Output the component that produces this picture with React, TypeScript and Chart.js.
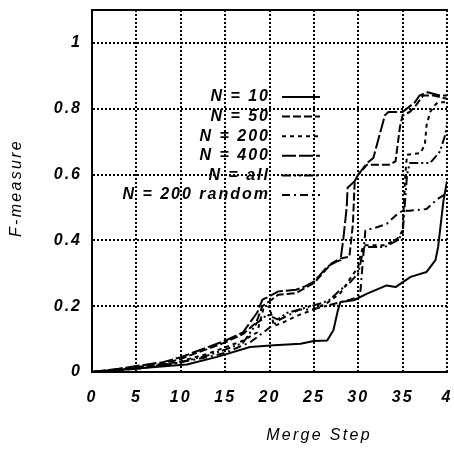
import React, { useEffect, useRef } from "react";
import { Chart, registerables } from "chart.js";

Chart.register(...registerables);

const seriesLabels = ["N = 10", "N = 50", "N = 200", "N = 400", "N = all", "N = 200 random"];

const xTickLabels = ["0", "5", "10", "15", "20", "25", "30", "35", "4"];
const yTickLabels = ["0", "0.2", "0.4", "0.6", "0.8", "1"];

const n10X = [0, 4.7, 9.2, 10.7, 14.1, 17.8, 20.5, 23.5, 25, 26.5, 27.2, 27.7, 28, 29.5, 31, 33.2, 34.2, 35.9, 37.7, 38.7, 39, 39.6, 40];
const n10Y = [0, 0.01, 0.02, 0.023, 0.046, 0.076, 0.081, 0.086, 0.094, 0.096, 0.127, 0.187, 0.213, 0.218, 0.238, 0.263, 0.258, 0.289, 0.304, 0.34, 0.38, 0.52, 0.58];

const n50X = [0, 3, 5, 8, 10, 13, 15, 17, 18.5, 19.2, 20, 21, 23, 24, 25, 26, 27, 28, 29, 29.4, 29.6, 30, 31, 32, 33.5, 34.2, 34.7, 35, 35.8, 36.5, 37.3, 38.5, 40];
const n50Y = [0, 0.008, 0.015, 0.025, 0.04, 0.07, 0.09, 0.115, 0.15, 0.2, 0.215, 0.235, 0.24, 0.255, 0.27, 0.3, 0.33, 0.345, 0.35, 0.45, 0.58, 0.6, 0.63, 0.63, 0.63, 0.64, 0.745, 0.78, 0.79, 0.81, 0.84, 0.84, 0.83];

const n200X = [0, 3, 5, 8, 10, 13, 15, 17, 18.6, 19.3, 20, 20.5, 21.5, 23, 25, 26.5, 28, 29, 30, 30.3, 30.6, 33, 34.4, 35, 35.3, 35.5, 37, 37.5, 37.7, 38.1, 38.6, 39, 40];
const n200Y = [0, 0.007, 0.012, 0.022, 0.033, 0.055, 0.075, 0.095, 0.12, 0.19, 0.2, 0.14, 0.15, 0.17, 0.19, 0.21, 0.24, 0.28, 0.32, 0.36, 0.385, 0.385, 0.405, 0.43, 0.6, 0.66, 0.665, 0.69, 0.75, 0.79, 0.81, 0.82, 0.82];

const n400X = [0, 3, 5, 8, 10, 13, 15, 17, 18.6, 19.2, 20, 21, 23, 24, 25, 25.7, 26.5, 27.5, 28, 28.3, 28.7, 28.8, 29.6, 30, 31, 31.7, 32.4, 33, 33.4, 35, 36.4, 36.9, 37.8, 39.2, 40];
const n400Y = [0, 0.01, 0.018, 0.03, 0.045, 0.075, 0.095, 0.12, 0.18, 0.22, 0.23, 0.245, 0.25, 0.26, 0.275, 0.295, 0.32, 0.335, 0.34, 0.4, 0.5, 0.56, 0.58, 0.6, 0.635, 0.65, 0.72, 0.78, 0.79, 0.79, 0.82, 0.84, 0.85, 0.84, 0.84];

const nAllX = [0, 3, 5, 8, 10, 13, 15, 17, 18.6, 19.2, 19.7, 20.9, 21.2, 22, 23.4, 24.6, 26, 26.8, 28, 29, 30, 30.4, 30.7, 33, 34.4, 35, 35.5, 35.8, 38.1, 39.2, 39.8, 40];
const nAllY = [0, 0.006, 0.01, 0.02, 0.03, 0.05, 0.068, 0.088, 0.15, 0.16, 0.175, 0.16, 0.165, 0.18, 0.19, 0.2, 0.21, 0.22, 0.25, 0.27, 0.3, 0.35, 0.38, 0.38, 0.4, 0.42, 0.6, 0.635, 0.635, 0.67, 0.72, 0.75];

const nRandX = [0, 3, 5, 8, 10, 13, 15, 17.8, 19.3, 21.2, 23.4, 24.8, 26.3, 27.7, 29.1, 30.2, 30.5, 30.8, 32.1, 33.2, 34.4, 35, 35.8, 37.7, 38.9, 39.5, 40];
const nRandY = [0, 0.005, 0.01, 0.02, 0.03, 0.045, 0.058, 0.09, 0.12, 0.16, 0.19, 0.19, 0.2, 0.21, 0.22, 0.23, 0.33, 0.43, 0.44, 0.45, 0.48, 0.49, 0.49, 0.495, 0.525, 0.535, 0.545];

const seriesX = [n10X, n50X, n200X, n400X, nAllX, nRandX];
const seriesY = [n10Y, n50Y, n200Y, n400Y, nAllY, nRandY];
const dashes: number[][] = [[], [8, 3], [4, 4], [14, 3], [9, 3, 2, 3, 2, 3], [8, 4, 2, 4]];

const FONT = '"Liberation Sans", Arial, sans-serif';

const decorPlugin = {
  id: "decor",
  beforeDraw(chart: any) {
    chart.ctx.letterSpacing = "2px";
  },
  afterDraw(chart: any) {
    const ctx = chart.ctx;
    const a = chart.chartArea;
    ctx.save();
    ctx.strokeStyle = "#000";
    ctx.lineWidth = 2;
    ctx.setLineDash([]);
    ctx.beginPath();
    ctx.moveTo(a.left, a.top);
    ctx.lineTo(a.right + 1, a.top);
    ctx.stroke();

    ctx.fillStyle = "#000";
    ctx.font = `italic bold 16px ${FONT}`;
    ctx.letterSpacing = "2px";
    ctx.textAlign = "right";
    ctx.textBaseline = "middle";
    chart.data.datasets.forEach((ds: any, i: number) => {
      const y = 97 + i * 19.6;
      ctx.fillText(ds.label, 270, y);
      ctx.beginPath();
      ctx.setLineDash(ds.borderDash || []);
      ctx.lineWidth = 2;
      ctx.moveTo(282, y);
      ctx.lineTo(320, y);
      ctx.stroke();
    });
    ctx.setLineDash([]);

    ctx.font = `italic 16px ${FONT}`;
    ctx.textAlign = "center";
    ctx.letterSpacing = "2.3px";
    ctx.fillText("Merge Step", 319, 436);
    ctx.translate(17, 188);
    ctx.rotate(-Math.PI / 2);
    ctx.fillText("F-measure", 0, 0);
    ctx.restore();
  },
};

export default function App() {
  const ref = useRef<HTMLCanvasElement>(null);
  useEffect(() => {
    document.body.style.margin = "0";
    const canvas = ref.current!;
    const chart = new Chart(canvas, {
      type: "line",
      data: {
        datasets: seriesLabels.map((label, i) => ({
          label,
          data: seriesX[i].map((x, j) => ({ x, y: seriesY[i][j] })),
          borderColor: "#000",
          borderWidth: 2,
          borderDash: dashes[i],
          pointRadius: 0,
          tension: 0,
          fill: false,
          borderJoinStyle: "round" as const,
        })),
      },
      options: {
        animation: false,
        responsive: false,
        layout: { padding: { top: 10, right: 7, left: 0, bottom: 0 } },
        plugins: { legend: { display: false }, tooltip: { enabled: false } },
        scales: {
          x: {
            type: "linear",
            min: 0,
            max: 40,
            afterFit: (s: any) => {
              s.height = 78;
              s.paddingLeft = 0;
              s.paddingRight = 0;
            },
            ticks: {
              stepSize: 5,
              padding: 16,
              color: "#000",
              maxRotation: 0,
              font: { family: FONT, size: 16, style: "italic", weight: "bold" },
              callback: (_v: any, i: number) => xTickLabels[i],
            },
            grid: { color: "#000", lineWidth: 2, drawTicks: false },
            border: { display: true, color: "#000", width: 2, dash: [2, 2] },
          },
          y: {
            type: "linear",
            min: 0,
            max: 1.1,
            afterFit: (s: any) => {
              s.width = 92;
              s.paddingTop = 0;
              s.paddingBottom = 0;
            },
            ticks: {
              stepSize: 0.2,
              includeBounds: false,
              padding: 10,
              color: "#000",
              font: { family: FONT, size: 16, style: "italic", weight: "bold" },
              callback: (_v: any, i: number) => yTickLabels[i],
            },
            grid: { color: "#000", lineWidth: 2, drawTicks: false },
            border: { display: true, color: "#000", width: 2, dash: [2, 2] },
          },
        },
      },
      plugins: [decorPlugin],
    });
    return () => chart.destroy();
  }, []);
  return <canvas ref={ref} width={454} height={450} style={{ display: "block" }} />;
}
